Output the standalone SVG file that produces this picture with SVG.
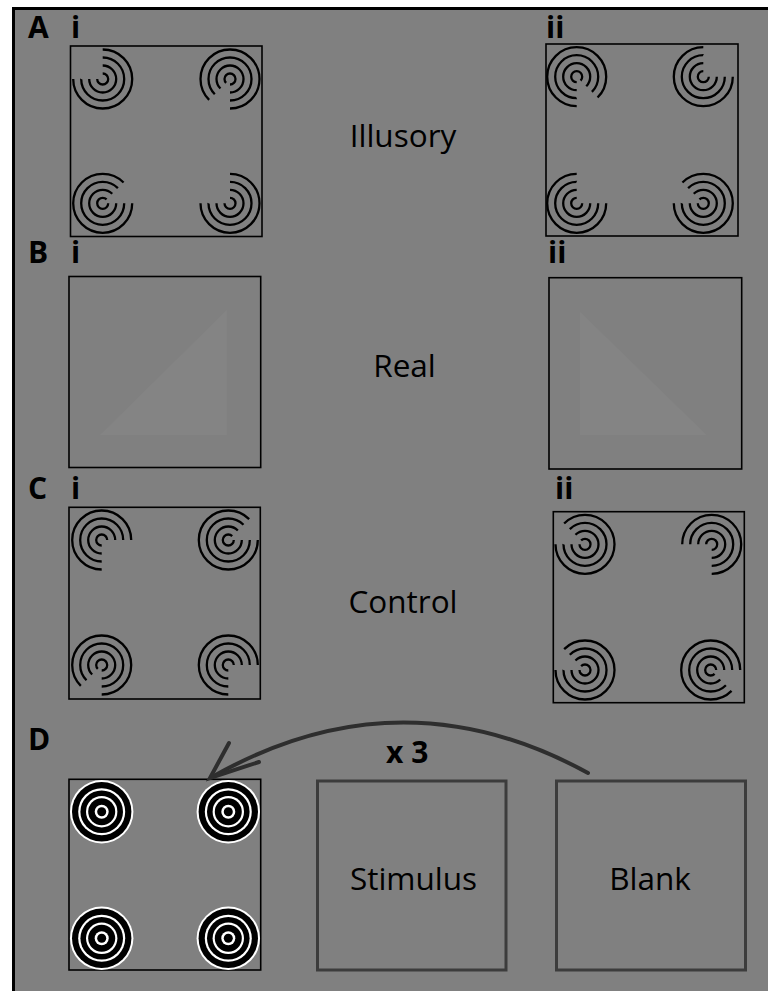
<svg xmlns="http://www.w3.org/2000/svg" xmlns:xlink="http://www.w3.org/1999/xlink" width="768" height="991" viewBox="0 0 768 991">
<style>
.lbl{font-family:"Open Sans","Liberation Sans",sans-serif;font-weight:bold;font-size:30px;fill:#000}
.cap{font-family:"Open Sans","Liberation Sans",sans-serif;font-size:31.5px;fill:#000;text-anchor:middle}
.box{fill:none;stroke:#000;stroke-width:1.6}
.dbox{fill:none;stroke:#3c3c3c;stroke-width:3}
.tri{fill:#848484}
</style>
<defs>
<g id="rings" fill="none" stroke="#000" stroke-width="2.3">
<circle r="5.5" pathLength="360"/>
<circle r="13.5" pathLength="360"/>
<circle r="21.5" pathLength="360"/>
<circle r="29.5" pathLength="360"/>
</g>
<g id="target">
<circle r="31.7" fill="#fff"/>
<circle r="29.7" fill="#000"/>
<circle r="23.5" fill="#fff"/>
<circle r="21.3" fill="#000"/>
<circle r="15.7" fill="#fff"/>
<circle r="13.5" fill="#000"/>
<circle r="7" fill="#fff"/>
<circle r="4.5" fill="#000"/>
</g>
</defs>
<rect x="0" y="0" width="768" height="991" fill="#fff"/>
<rect x="12" y="7" width="756" height="984" fill="#808080"/>
<path d="M13.5,991 V8.5 H768" fill="none" stroke="#000" stroke-width="3"/>

<g id="labels">
<text class="lbl" x="28" y="38">A</text>
<text class="lbl" x="71" y="38">i</text>
<text class="lbl" x="546" y="38">ii</text>
<text class="lbl" x="28" y="263">B</text>
<text class="lbl" x="71" y="263">i</text>
<text class="lbl" x="548" y="263">ii</text>
<text class="lbl" x="28" y="499">C</text>
<text class="lbl" x="71" y="499">i</text>
<text class="lbl" x="555" y="499">ii</text>
<text class="lbl" x="28" y="750">D</text>
</g>

<g id="A-i">
<rect class="box" x="70.5" y="46" width="191.5" height="190.5"/>
<use href="#rings" x="102.7" y="79" stroke-dasharray="270 90" stroke-dashoffset="-270"/>
<use href="#rings" x="230" y="79" stroke-dasharray="315 45" stroke-dashoffset="-135"/>
<use href="#rings" x="102.7" y="203.3" stroke-dasharray="315 45" stroke-dashoffset="0"/>
<use href="#rings" x="230" y="203.3" stroke-dasharray="270 90" stroke-dashoffset="-270"/>
</g>
<g id="A-ii">
<rect class="box" x="546" y="44" width="192" height="192"/>
<use href="#rings" x="576.7" y="76.7" stroke-dasharray="315 45" stroke-dashoffset="-90"/>
<use href="#rings" x="703.3" y="76.7" stroke-dasharray="270 90" stroke-dashoffset="0"/>
<use href="#rings" x="576.7" y="203.3" stroke-dasharray="270 90" stroke-dashoffset="0"/>
<use href="#rings" x="703.3" y="203.3" stroke-dasharray="315 45" stroke-dashoffset="-225"/>
</g>
<text class="cap" x="403" y="147">Illusory</text>

<g id="B-i">
<rect class="box" x="69" y="276.5" width="191.7" height="191"/>
<polygon class="tri" points="100,435 226.7,310 226.7,435"/>
</g>
<g id="B-ii">
<rect class="box" x="549" y="277.7" width="192.7" height="191.3"/>
<polygon class="tri" points="580,311.7 580,435 706.7,435"/>
</g>
<text class="cap" x="404.5" y="377">Real</text>

<g id="C-i">
<rect class="box" x="69" y="507.3" width="191.3" height="191.7"/>
<use href="#rings" x="101.7" y="540" stroke-dasharray="270 90" stroke-dashoffset="-90"/>
<use href="#rings" x="228.3" y="540" stroke-dasharray="315 45" stroke-dashoffset="0"/>
<use href="#rings" x="101.7" y="665" stroke-dasharray="315 45" stroke-dashoffset="-135"/>
<use href="#rings" x="228.3" y="665" stroke-dasharray="270 90" stroke-dashoffset="-90"/>
</g>
<g id="C-ii">
<rect class="box" x="553.3" y="511.7" width="191" height="191"/>
<use href="#rings" x="585" y="544.3" stroke-dasharray="315 45" stroke-dashoffset="-225"/>
<use href="#rings" x="711.7" y="544.3" stroke-dasharray="270 90" stroke-dashoffset="-180"/>
<use href="#rings" x="585" y="670" stroke-dasharray="315 45" stroke-dashoffset="-225"/>
<use href="#rings" x="710.7" y="670" stroke-dasharray="315 45" stroke-dashoffset="-45"/>
</g>
<text class="cap" x="403" y="613">Control</text>

<g id="D-fixation">
<rect class="box" x="69" y="779.3" width="191.7" height="190.7"/>
<use href="#target" x="101.7" y="811.7"/>
<use href="#target" x="228.3" y="811.7"/>
<use href="#target" x="101.7" y="938.3"/>
<use href="#target" x="228.3" y="938.3"/>
</g>
<g id="D-stimulus">
<rect class="dbox" x="317.5" y="781" width="188.5" height="189"/>
<text class="cap" x="413.5" y="890">Stimulus</text>
</g>
<g id="D-blank">
<rect class="dbox" x="556.5" y="781" width="189" height="189"/>
<text class="cap" x="650" y="890">Blank</text>
</g>

<g id="connectors" fill="none" stroke="#2e2e2e" stroke-width="4" stroke-linecap="round">
<path d="M588,773 Q400,670 212,777"/>
<path d="M229,743 L210,778 L259,762"/>
</g>
<text class="lbl" x="386" y="763" font-size="32">x 3</text>
</svg>
